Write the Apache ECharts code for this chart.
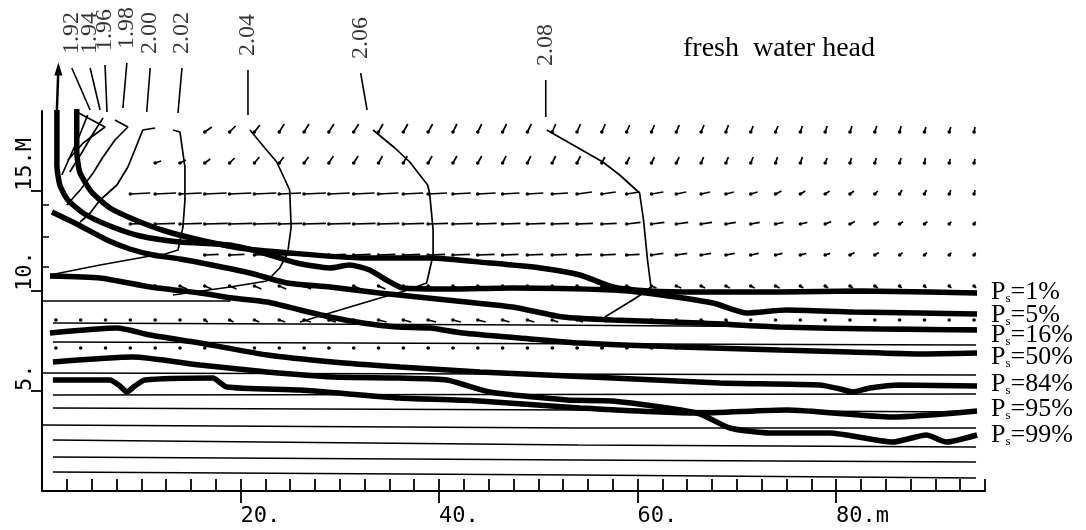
<!DOCTYPE html>
<html><head><meta charset="utf-8">
<script src="https://cdn.jsdelivr.net/npm/echarts@6/dist/echarts.min.js"></script>
<style>html,body{margin:0;padding:0;background:#fff}#c{width:1086px;height:530px}</style>
</head><body><div id="c"></div>
<script>
// ---- axis ticks / labels ----
const xTickValues = [2.5,5,7.5,10,12.5,15,17.5,20,22.5,25,27.5,30,32.5,35,37.5,40,42.5,45,47.5,50,52.5,55,57.5,60,62.5,65,67.5,70,72.5,75,77.5,80,82.5,85,87.5,90,92.5,95];
const xLabelValues = [20,40,60,80];
const xLabelTexts = ['20.','40.','60.','80.m'];
const yLabelValues = [5,10,15];
const yLabelTexts = ['5.','10.','15.M'];
const yInnerTicks = [11.2,12.7,14.3];

// ---- salt-fraction percentile lines (x m, elevation m) ----
const psNames = ['1%','5%','16%','50%','84%','95%','99%'];
const ps01 = [[3.5,19.1],[3.5,17.05],[3.8,15.95],[5.0,14.95],[6.85,14.15],[9.4,13.55],[12.4,13.0],[15.9,12.55],[19.9,12.15],[25.0,11.9],[32.3,11.65],[39.1,11.65],[45.1,11.4],[50.2,11.15],[54.2,10.8],[57.5,10.2],[61.2,10.0],[66.3,9.95],[74.3,9.95],[82.4,10.0],[89.4,9.95],[94.2,9.9]];
const ps05 = [[1.5,19.05],[1.5,16.3],[1.8,15.3],[2.6,14.55],[4.3,13.85],[6.85,13.25],[9.9,12.75],[13.9,12.45],[18.9,12.3],[22.3,11.9],[25.7,11.4],[29.0,11.15],[31.0,11.3],[33.0,11.05],[34.7,10.55],[36.35,10.15],[41.1,10.1],[47.4,10.15],[57.5,10.05],[60.9,9.9],[67.6,9.4],[71.0,8.9],[75.0,9.05],[81.7,8.95],[88.4,8.9],[94.2,8.85]];
const ps16 = [[1.0,13.95],[3.5,13.35],[6.55,12.55],[8.85,12.1],[11.2,11.8],[13.9,11.6],[17.6,11.25],[20.95,10.9],[24.7,10.4],[29.0,10.2],[34.0,9.9],[40.8,9.55],[47.4,9.2],[52.5,8.7],[57.5,8.55],[66.3,8.4],[74.3,8.2],[84.4,8.1],[94.2,8.05]];
const ps50 = [[0.8,10.75],[5.85,10.65],[10.9,10.2],[15.9,9.9],[19.2,9.65],[22.7,9.45],[26.0,9.05],[29.0,8.7],[32.3,8.4],[35.75,8.2],[39.1,8.15],[42.4,7.9],[48.1,7.65],[54.2,7.4],[64.25,7.2],[74.3,7.05],[81.4,6.95],[88.4,6.85],[94.2,6.9]];
const ps84 = [[0.8,7.9],[7.55,8.15],[10.9,7.8],[15.9,7.4],[22.7,6.8],[29.3,6.45],[36.05,6.2],[44.1,5.95],[57.5,5.65],[68.3,5.4],[78.35,5.3],[80.4,5.1],[81.7,4.95],[83.4,5.15],[86.4,5.3],[94.2,5.25]];
const ps95 = [[1.1,5.55],[6.85,5.55],[7.85,5.25],[8.55,4.95],[9.35,5.25],[10.35,5.55],[17.2,5.65],[18.6,5.2],[26.0,5.05],[36.05,4.65],[44.1,4.5],[54.2,4.15],[66.0,3.9],[75.0,4.05],[85.7,3.7],[94.2,4.0]];
const ps99 = [[1.1,6.45],[9.15,6.7],[15.9,6.3],[22.7,5.95],[29.3,5.7],[36.05,5.65],[40.8,5.55],[45.1,4.95],[52.9,4.55],[57.5,4.5],[66.0,3.9],[69.3,3.15],[73.3,2.9],[79.35,2.9],[85.7,2.45],[89.1,2.8],[91.1,2.45],[94.2,2.8]];
const arrowLine = [[1.5,19.05],[1.65,21.1]];

// ---- fresh water head contours ----
const headLevels = ['1.92','1.94','1.96','1.98','2.00','2.02','2.04','2.06','2.08'];
const headLeaders = [
  [[3.0,21.15],[4.85,19.05]],
  [[4.85,21.15],[5.85,19.05]],
  [[6.35,21.3],[6.55,18.95]],
  [[8.55,21.4],[8.15,19.15]],
  [[10.9,21.15],[10.55,18.95]],
  [[14.1,21.15],[13.7,18.9]],
  [[20.75,21.05],[20.75,18.8]],
  [[32.1,20.9],[32.75,19.05]],
  [[50.75,20.55],[50.75,18.7]]
];
const headCurves = [
  [[4.6,18.8],[3.8,17.8],[2.9,16.8],[2.0,15.8]],
  [[3.5,18.95],[6.35,18.2],[4.15,17.4],[2.6,16.55]],
  [[6.15,18.65],[5.05,17.8],[4.05,16.95],[2.8,15.95]],
  [[7.35,18.55],[8.65,18.2],[7.35,17.55],[6.15,16.7],[5.15,15.9],[3.85,15.05],[2.5,14.3]],
  [[11.4,18.15],[10.15,18.05],[9.35,17.05],[8.65,16.2],[7.55,15.3],[5.85,14.55],[4.85,13.9],[3.85,13.45]],
  [[13.2,18.05],[13.9,17.95],[14.4,16.2],[14.4,14.55],[14.2,13.2],[13.7,12.05],[12.4,11.85],[10.9,11.75],[5.85,11.3],[0.8,10.8]],
  [[20.95,18.05],[22.45,17.15],[23.65,16.45],[24.95,15.05],[25.1,13.2],[24.75,11.9],[23.95,11.15],[22.65,10.5],[18.95,10.2],[13.2,9.8]],
  [[33.35,18.05],[35.55,17.15],[37.05,16.45],[38.85,15.3],[39.05,14.9],[39.4,13.05],[39.4,11.8],[39.05,11.05],[38.75,10.4],[36.55,10.0],[34.05,9.65],[29.0,8.9],[26.0,8.45]],
  [[50.85,18.05],[53.15,17.4],[56.5,16.45],[58.2,15.8],[60.2,14.9],[60.6,13.55],[61.0,11.55],[61.35,10.2],[60.75,9.95],[59.5,9.55],[56.7,8.7]]
];

// ---- model layer lines ----
const layerLines = [
  [[0,9.5],[19,9.5]],
  [[1.1,8.4],[50,8.3],[94.1,8.15]],
  [[1.1,7.45],[60,7.35],[94.1,7.3]],
  [[0,5.9],[94.1,5.8]],
  [[1.1,4.8],[94.1,4.85]],
  [[1.1,4.15],[54,4.05],[94.1,3.95]],
  [[0,3.3],[54,3.15],[94.1,3.15]],
  [[1.1,2.55],[54,2.3],[94.1,2.2]],
  [[1.1,1.7],[54,1.55],[94.1,1.45]],
  [[1.1,0.95],[54,0.8],[94.1,0.65]]
];

// ---- velocity field (node columns, rows, displacement components) ----
const colX = [1.4,3.9,6.4,8.9,11.4,13.9,16.4,18.9,21.4,23.9,26.4,28.9,31.4,33.9,36.4,38.9,41.4,43.9,46.4,48.9,51.4,53.9,56.4,58.9,61.4,63.9,66.4,68.9,71.4,73.9,76.4,78.9,81.4,83.9,86.4,88.9,91.4,93.9];
const rowY = [17.95,16.4,14.85,13.35,11.8,10.25,8.55,7.15];
const rowStart = [6,4,3,3,6,4,0,0];
const rowDX = [
  [-0.7,-0.6,-0.55,-0.5,-0.5,-0.5,-0.5,-0.45,-0.45,-0.45,-0.4,-0.4,-0.4,-0.4,-0.35,-0.35,-0.35,-0.3,-0.3,-0.3,-0.3,-0.25,-0.25,-0.25,-0.2,-0.2,-0.2,-0.2,-0.15,-0.15,-0.15,-0.1],
  [-0.6,-0.6,-0.55,-0.5,-0.5,-0.45,-0.45,-0.45,-0.45,-0.4,-0.4,-0.4,-0.4,-0.4,-0.35,-0.35,-0.35,-0.35,-0.3,-0.3,-0.3,-0.3,-0.25,-0.25,-0.25,-0.2,-0.2,-0.2,-0.15,-0.15,-0.15,-0.1,-0.1,-0.1],
  [-2.0,-2.1,-2.2,-2.2,-2.2,-2.2,-2.2,-2.2,-2.1,-2.1,-2.0,-2.0,-1.9,-1.8,-1.8,-1.7,-1.6,-1.6,-1.5,-1.4,-1.3,-1.2,-1.0,-0.9,-0.8,-0.7,-0.6,-0.5,-0.45,-0.4,-0.3,-0.25,-0.2,-0.15,-0.1],
  [-1.8,-2.0,-2.2,-2.3,-2.3,-2.3,-2.3,-2.2,-2.2,-2.2,-2.1,-2.1,-2.0,-2.0,-1.9,-1.8,-1.8,-1.7,-1.6,-1.5,-1.4,-1.3,-1.2,-1.1,-1.0,-0.9,-0.8,-0.7,-0.6,-0.5,-0.4,-0.35,-0.3,-0.2,-0.15],
  [-1.4,-1.5,-1.6,-1.6,-1.7,-1.7,-1.7,-1.7,-1.7,-1.7,-1.7,-1.7,-1.6,-1.6,-1.5,-1.5,-1.4,-1.3,-1.2,-1.1,-1.0,-0.9,-0.8,-0.7,-0.6,-0.5,-0.45,-0.4,-0.3,-0.25,-0.2,-0.15],
  [-0.7,-0.7,-0.7,-0.7,-0.7,-0.7,-0.7,-0.7,-0.7,-0.7,-0.6,-0.6,-0.6,-0.6,-0.6,-0.6,-0.5,-0.5,-0.5,-0.5,-0.5,-0.5,-0.4,-0.4,-0.4,-0.4,-0.3,-0.3,-0.3,-0.3,-0.2,-0.2,-0.2,-0.2],
  [-0.1,-0.1,-0.1,-0.1,-0.1,-0.1,-0.3,-0.4,-0.5,-0.6,-0.7,-0.7,-0.8,-0.8,-0.8,-0.8,-0.8,-0.8,-0.7,-0.7,-0.6,-0.6,-0.5,-0.5,-0.4,-0.4,-0.3,-0.2,-0.1,-0.1,-0.1,-0.1,-0.1,-0.1,-0.1,-0.1,-0.1,-0.1],
  [-0.1,-0.1,-0.1,-0.1,-0.1,-0.1,-0.1,-0.1,-0.1,-0.1,-0.15,-0.15,-0.15,-0.15,-0.15,-0.15,-0.15,-0.15,-0.15,-0.15,-0.2,-0.2,-0.2,-0.2,-0.2,-0.2]
];
const rowDY = [
  [-0.25,-0.3,-0.35,-0.4,-0.4,-0.4,-0.4,-0.4,-0.4,-0.4,-0.4,-0.4,-0.4,-0.4,-0.4,-0.4,-0.4,-0.35,-0.35,-0.35,-0.35,-0.35,-0.3,-0.3,-0.3,-0.3,-0.3,-0.3,-0.3,-0.25,-0.25,-0.25],
  [-0.1,-0.15,-0.2,-0.25,-0.3,-0.3,-0.3,-0.35,-0.35,-0.35,-0.35,-0.35,-0.35,-0.35,-0.35,-0.35,-0.35,-0.35,-0.3,-0.3,-0.3,-0.3,-0.3,-0.3,-0.3,-0.3,-0.3,-0.25,-0.25,-0.25,-0.25,-0.25,-0.2,-0.2],
  [-0.05,-0.05,-0.05,-0.05,-0.05,-0.05,-0.05,-0.05,-0.05,-0.05,-0.05,-0.05,-0.05,-0.05,-0.05,-0.05,-0.05,-0.05,-0.1,-0.1,-0.1,-0.1,-0.1,-0.1,-0.1,-0.1,-0.15,-0.15,-0.15,-0.15,-0.15,-0.2,-0.2,-0.2,-0.2],
  [-0.03,-0.03,-0.03,-0.03,-0.03,-0.03,-0.03,-0.03,-0.03,-0.03,-0.03,-0.03,-0.03,-0.03,-0.03,-0.03,-0.03,-0.03,-0.03,-0.03,-0.08,-0.08,-0.08,-0.08,-0.08,-0.08,-0.08,-0.08,-0.12,-0.12,-0.12,-0.12,-0.12,-0.12,-0.12],
  [-0.03,-0.03,-0.03,-0.03,-0.03,-0.03,-0.03,-0.03,-0.03,-0.03,-0.03,-0.03,-0.03,-0.03,-0.03,-0.03,-0.03,-0.03,-0.08,-0.08,-0.08,-0.08,-0.08,-0.08,-0.08,-0.08,-0.12,-0.12,-0.12,-0.12,-0.12,-0.12],
  [0.15,0.15,0.15,0.15,0.15,0.15,0.15,0.15,0.15,0.15,0.15,0.15,0.15,0.15,0.15,0.15,0.1,0.1,0.1,0.1,0.1,0.1,0.1,0.1,0.1,0.1,0.1,0.1,0.1,0.1,0.1,0.1,0.1,0.1],
  [0,0,0,0,0,0,0.1,0.1,0.1,0.1,0.1,0.1,0.1,0.1,0.1,0.1,0.1,0.1,0.1,0.1,0.1,0.1,0.1,0.1,0.1,0.1,0.1,0.1,0,0,0,0,0,0,0,0,0,0],
  [0,0,0,0,0,0,0,0,0,0,0,0,0,0,0,0,0,0,0,0,0,0,0,0,0,0]
];

// ---- styling helpers (not data) ----
const psLabelShift = [-1, 1, 5, 4, -2, -2, 0];

// ---- build chart ----
const vecData = [];
rowY.forEach((y, r) => {
  rowDX[r].forEach((dx, i) => {
    vecData.push([colX[rowStart[r] + i], y, dx, rowDY[r][i]]);
  });
});

const serifFont = "'Liberation Serif','Times New Roman',serif";
const monoFont = "'DejaVu Sans Mono',monospace";
const series = [];

layerLines.forEach(d => series.push({
  type: 'line', data: d, symbol: 'none', silent: true, z: 1,
  lineStyle: { color: '#000', width: 1.6 }
}));

series.push({
  type: 'custom', data: vecData, z: 2, silent: true, encode: { x: 0, y: 1 },
  renderItem: function (params, api) {
    const p = api.coord([api.value(0), api.value(1)]);
    const t = api.coord([api.value(0) - api.value(2), api.value(1) - api.value(3)]);
    return { type: 'group', children: [
      { type: 'line', shape: { x1: p[0], y1: p[1], x2: t[0], y2: t[1] }, style: { stroke: '#000', lineWidth: 1.7 } },
      { type: 'circle', shape: { cx: p[0], cy: p[1], r: 1.8 }, style: { fill: '#000' } }
    ] };
  }
});

headCurves.forEach((d, i) => {
  series.push({ type: 'line', data: d, symbol: 'none', clip: false, silent: true, z: 3,
    lineStyle: { color: '#000', width: 1.7 } });
  series.push({ type: 'line', data: headLeaders[i], symbol: 'none', clip: false, silent: true, z: 3,
    lineStyle: { color: '#000', width: 1.6 } });
});

series.push({
  type: 'scatter', symbolSize: 0, clip: false, silent: true, z: 4,
  data: headLeaders.map((d, i) => ({ value: d[0], name: headLevels[i] })),
  label: { show: true, formatter: '{b}', position: 'top', distance: 14, rotate: 90,
    align: 'left', verticalAlign: 'middle', fontFamily: serifFont, fontSize: 24, color: '#000' }
});

series.push({
  type: 'line', data: [arrowLine[0], { value: arrowLine[1], symbol: 'triangle', symbolSize: [8, 13] }],
  symbol: 'none', showSymbol: true, clip: false, silent: true, z: 4,
  lineStyle: { color: '#000', width: 2.5 }, itemStyle: { color: '#000' }
});

[ps01, ps05, ps16, ps50, ps84, ps95, ps99].forEach((d, i) => series.push({
  type: 'line', name: psNames[i], data: d, symbol: 'none', smooth: 0.2, clip: false, silent: true, z: 5,
  lineStyle: { color: '#000', width: 5.5 },
  endLabel: {
    show: true, distance: 14, offset: [0, psLabelShift[i]],
    formatter: p => '{p|P}{s|s}{t|=' + p.seriesName + '}',
    rich: {
      p: { fontFamily: serifFont, fontSize: 26, color: '#000' },
      s: { fontFamily: serifFont, fontSize: 13, color: '#000', verticalAlign: 'bottom' },
      t: { fontFamily: serifFont, fontSize: 26, color: '#000' }
    }
  }
}));

const chart = echarts.init(document.getElementById('c'), null, { renderer: 'canvas' });
chart.setOption({
  animation: false,
  backgroundColor: '#fff',
  title: { text: 'fresh  water head', left: 678, top: 30,
    textStyle: { fontFamily: serifFont, fontSize: 28, fontWeight: 'normal', color: '#000' } },
  grid: { left: 42, right: 101, top: 111, bottom: 39 },
  xAxis: [
    { type: 'value', min: 0, max: 95, position: 'bottom',
      axisLine: { show: true, lineStyle: { color: '#000', width: 2 } },
      axisTick: { show: true, inside: true, length: 12, customValues: xTickValues, lineStyle: { color: '#000', width: 1.8 } },
      axisLabel: { show: false }, splitLine: { show: false } },
    { type: 'value', min: 0, max: 95, position: 'bottom',
      axisLine: { show: false },
      axisTick: { show: true, inside: false, length: 12, customValues: xLabelValues, lineStyle: { color: '#000', width: 1.8 } },
      axisLabel: { show: true, customValues: xLabelValues, margin: 14, align: 'left',
        formatter: v => xLabelTexts[xLabelValues.indexOf(v)] || '',
        fontFamily: monoFont, fontSize: 22, color: '#000' },
      splitLine: { show: false } }
  ],
  yAxis: [
    { type: 'value', min: 0, max: 19, position: 'left',
      axisLine: { show: true, lineStyle: { color: '#000', width: 2 } },
      axisTick: { show: true, inside: false, length: 11, customValues: yLabelValues, lineStyle: { color: '#000', width: 1.8 } },
      axisLabel: { show: true, customValues: yLabelValues, rotate: 90, margin: 6, align: 'left', verticalAlign: 'bottom',
        formatter: v => yLabelTexts[yLabelValues.indexOf(v)] || '',
        fontFamily: monoFont, fontSize: 22, color: '#000' },
      splitLine: { show: false } },
    { type: 'value', min: 0, max: 19, position: 'left',
      axisLine: { show: false },
      axisTick: { show: true, inside: true, length: 7, customValues: yInnerTicks, lineStyle: { color: '#000', width: 1.5 } },
      axisLabel: { show: false }, splitLine: { show: false } }
  ],
  series: series
});
</script>
</body></html>
